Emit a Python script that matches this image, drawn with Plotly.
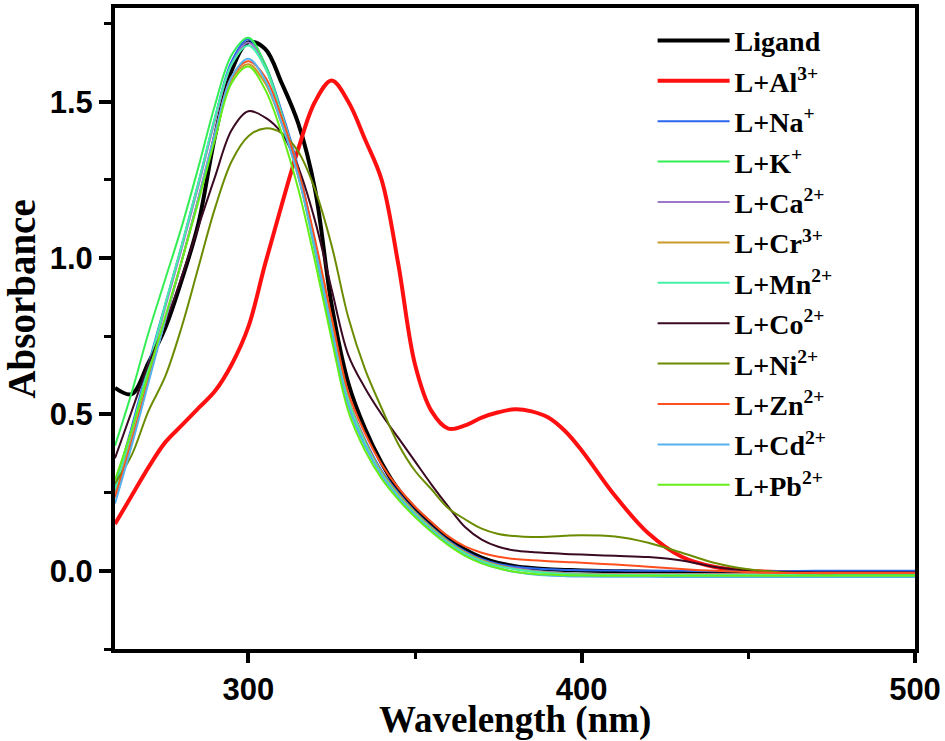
import plotly.graph_objects as go

wavelength = [260, 265, 270, 275, 280, 285, 290, 295, 300, 305, 310, 315, 320, 325, 330,
              335, 340, 345, 350, 355, 360, 365, 370, 375, 380, 385, 390, 395, 400,
              410, 420, 430, 440, 450, 460, 470, 480, 490, 500]

ligand = [0.585, 0.565, 0.665, 0.775, 0.93, 1.11, 1.39, 1.60, 1.69, 1.67, 1.56, 1.43, 1.22, 0.85, 0.60,
          0.455, 0.345, 0.26, 0.20, 0.15, 0.105, 0.068, 0.042, 0.025, 0.015, 0.009, 0.005, 0.003, 0.001,
          -0.001, -0.003, -0.004, -0.005, -0.005, -0.005, -0.005, -0.005, -0.005, -0.005]
al = [0.15, 0.24, 0.33, 0.41, 0.465, 0.52, 0.575, 0.66, 0.78, 0.98, 1.17, 1.35, 1.50, 1.568, 1.50,
      1.38, 1.25, 0.98, 0.66, 0.51, 0.455, 0.465, 0.49, 0.507, 0.517, 0.51, 0.49, 0.447, 0.385,
      0.24, 0.12, 0.045, 0.012, 0.0, -0.004, -0.005, -0.005, -0.005, -0.005]
na = [0.27, 0.46, 0.66, 0.85, 1.04, 1.24, 1.45, 1.63, 1.70, 1.62, 1.47, 1.29, 1.05, 0.79, 0.55,
      0.42, 0.32, 0.25, 0.19, 0.14, 0.097, 0.063, 0.038, 0.022, 0.013, 0.008, 0.005, 0.003, 0.002,
      0.001, 0.0, 0.0, -0.001, -0.001, -0.001, 0.0, 0.0, 0.0, 0.0]
k = [0.40, 0.57, 0.76, 0.93, 1.10, 1.29, 1.49, 1.65, 1.705, 1.62, 1.46, 1.27, 1.02, 0.76, 0.53,
     0.40, 0.31, 0.24, 0.185, 0.135, 0.092, 0.058, 0.032, 0.016, 0.006, -0.001, -0.005, -0.008, -0.01,
     -0.012, -0.012, -0.012, -0.012, -0.012, -0.012, -0.012, -0.012, -0.012, -0.012]
ca = [0.25, 0.44, 0.64, 0.84, 1.03, 1.23, 1.44, 1.62, 1.69, 1.61, 1.46, 1.28, 1.04, 0.78, 0.545,
      0.415, 0.315, 0.245, 0.187, 0.137, 0.093, 0.059, 0.034, 0.018, 0.008, 0.001, -0.004, -0.007, -0.009,
      -0.01, -0.01, -0.01, -0.01, -0.01, -0.01, -0.01, -0.01, -0.01, -0.01]
cr = [0.24, 0.42, 0.61, 0.80, 0.99, 1.19, 1.39, 1.57, 1.62, 1.56, 1.43, 1.26, 1.04, 0.79, 0.55,
      0.415, 0.315, 0.245, 0.187, 0.137, 0.093, 0.059, 0.034, 0.017, 0.006, -0.001, -0.006, -0.009, -0.011,
      -0.012, -0.012, -0.012, -0.012, -0.012, -0.012, -0.012, -0.012, -0.012, -0.012]
mn = [0.26, 0.45, 0.65, 0.85, 1.04, 1.24, 1.45, 1.62, 1.68, 1.61, 1.46, 1.28, 1.04, 0.78, 0.545,
      0.41, 0.31, 0.24, 0.183, 0.133, 0.09, 0.056, 0.031, 0.015, 0.005, -0.002, -0.007, -0.01, -0.012,
      -0.013, -0.013, -0.013, -0.013, -0.013, -0.013, -0.013, -0.013, -0.013, -0.013]
co = [0.36, 0.51, 0.66, 0.79, 0.94, 1.10, 1.26, 1.41, 1.47, 1.45, 1.40, 1.29, 1.12, 0.90, 0.69,
      0.585, 0.50, 0.425, 0.35, 0.275, 0.205, 0.14, 0.10, 0.077, 0.065, 0.06, 0.057, 0.054, 0.052,
      0.048, 0.044, 0.033, 0.012, 0.0, -0.004, -0.005, -0.005, -0.005, -0.005]
ni = [0.28, 0.37, 0.51, 0.62, 0.78, 0.97, 1.16, 1.31, 1.39, 1.415, 1.40, 1.34, 1.22, 1.04, 0.81,
      0.645, 0.52, 0.405, 0.32, 0.26, 0.20, 0.165, 0.135, 0.118, 0.111, 0.108, 0.109, 0.112, 0.114,
      0.11, 0.09, 0.058, 0.025, 0.005, -0.005, -0.008, -0.008, -0.008, -0.008]
zn = [0.235, 0.41, 0.61, 0.80, 0.99, 1.19, 1.40, 1.58, 1.63, 1.58, 1.45, 1.28, 1.06, 0.81, 0.57,
      0.44, 0.34, 0.265, 0.205, 0.155, 0.11, 0.078, 0.058, 0.045, 0.038, 0.034, 0.031, 0.028, 0.026,
      0.02, 0.013, 0.006, 0.0, -0.004, -0.007, -0.007, -0.007, -0.007, -0.007]
cd = [0.215, 0.40, 0.60, 0.80, 0.99, 1.19, 1.40, 1.58, 1.638, 1.57, 1.43, 1.26, 1.03, 0.77, 0.53,
      0.40, 0.305, 0.235, 0.178, 0.128, 0.085, 0.05, 0.025, 0.008, -0.004, -0.011, -0.015, -0.017, -0.018,
      -0.019, -0.019, -0.02, -0.02, -0.02, -0.02, -0.02, -0.02, -0.02, -0.02]
pb = [0.29, 0.45, 0.63, 0.81, 0.99, 1.18, 1.38, 1.56, 1.613, 1.54, 1.40, 1.22, 0.99, 0.74, 0.51,
      0.385, 0.295, 0.228, 0.172, 0.124, 0.082, 0.048, 0.024, 0.008, -0.003, -0.009, -0.012, -0.014, -0.015,
      -0.016, -0.016, -0.016, -0.016, -0.016, -0.016, -0.016, -0.016, -0.016, -0.016]

series_names = ["Ligand", "L+Al<sup>3+</sup>", "L+Na<sup>+</sup>", "L+K<sup>+</sup>",
                "L+Ca<sup>2+</sup>", "L+Cr<sup>3+</sup>", "L+Mn<sup>2+</sup>", "L+Co<sup>2+</sup>",
                "L+Ni<sup>2+</sup>", "L+Zn<sup>2+</sup>", "L+Cd<sup>2+</sup>", "L+Pb<sup>2+</sup>"]
series_values = [ligand, al, na, k, ca, cr, mn, co, ni, zn, cd, pb]
series_colors = ["#000000", "#FF1010", "#2A66EE", "#33EE55", "#9B78CC", "#C99A28",
                 "#45F0A8", "#3A0A22", "#6B8C00", "#FF4F1F", "#55B2EE", "#66EE1A"]
series_widths = [4, 4, 2, 2, 2, 2, 2, 2, 2, 2, 2, 2]

fig = go.Figure()
for name, vals, col, w in zip(series_names, series_values, series_colors, series_widths):
    fig.add_trace(go.Scatter(
        x=wavelength, y=vals, name=name, mode="lines",
        line=dict(color=col, width=w, shape="spline", smoothing=1.0),
        legendgroup=name,
    ))

tick_font = dict(family="Liberation Sans", size=31, color="black", weight="bold")
xtitle_font = dict(family="Liberation Serif", size=37, color="black", weight="bold")
ytitle_font = dict(family="Liberation Serif", size=39, color="black", weight="bold")

fig.update_layout(
    width=945, height=741,
    margin=dict(l=115, r=27, t=4, b=92),
    paper_bgcolor="white", plot_bgcolor="white",
    showlegend=True,
    legend=dict(
        x=0.672, y=0.988, xanchor="left", yanchor="top",
        font=dict(family="Liberation Serif", size=28, color="black", weight="bold"),
        bgcolor="rgba(0,0,0,0)", borderwidth=0,
        tracegroupgap=1, traceorder="grouped", itemwidth=72,
    ),
    xaxis=dict(
        range=[260, 500], tickmode="array", tickvals=[300, 400, 500],
        ticks="outside", ticklen=10, tickwidth=4, tickcolor="black",
        minor=dict(tickvals=[350, 450], ticks="outside", ticklen=6, tickwidth=3, tickcolor="black"),
        showline=True, linewidth=4, linecolor="black", mirror=True,
        showgrid=False, zeroline=False, tickfont=tick_font,
    ),
    yaxis=dict(
        range=[-0.25, 1.8], tickmode="array", tickvals=[0.0, 0.5, 1.0, 1.5],
        ticktext=["0.0", "0.5", "1.0", "1.5"],
        ticks="outside", ticklen=12, tickwidth=4, tickcolor="black",
        minor=dict(tickvals=[-0.25, 0.25, 0.75, 1.25, 1.75], ticks="outside", ticklen=7, tickwidth=3, tickcolor="black"),
        showline=True, linewidth=4, linecolor="black", mirror=True,
        showgrid=False, zeroline=False, tickfont=tick_font,
    ),
    annotations=[
        dict(text="Absorbance", xref="paper", yref="paper",
             x=-0.118, y=0.546, xanchor="center", yanchor="middle",
             textangle=-90, showarrow=False, font=ytitle_font),
        dict(text="Wavelength (nm)", xref="paper", yref="paper",
             x=0.5, y=-0.111, xanchor="center", yanchor="middle",
             showarrow=False, font=xtitle_font),
    ],
)

fig.write_html("out.html", config={"displayModeBar": False},
               post_script="document.body.style.margin='0px';")
